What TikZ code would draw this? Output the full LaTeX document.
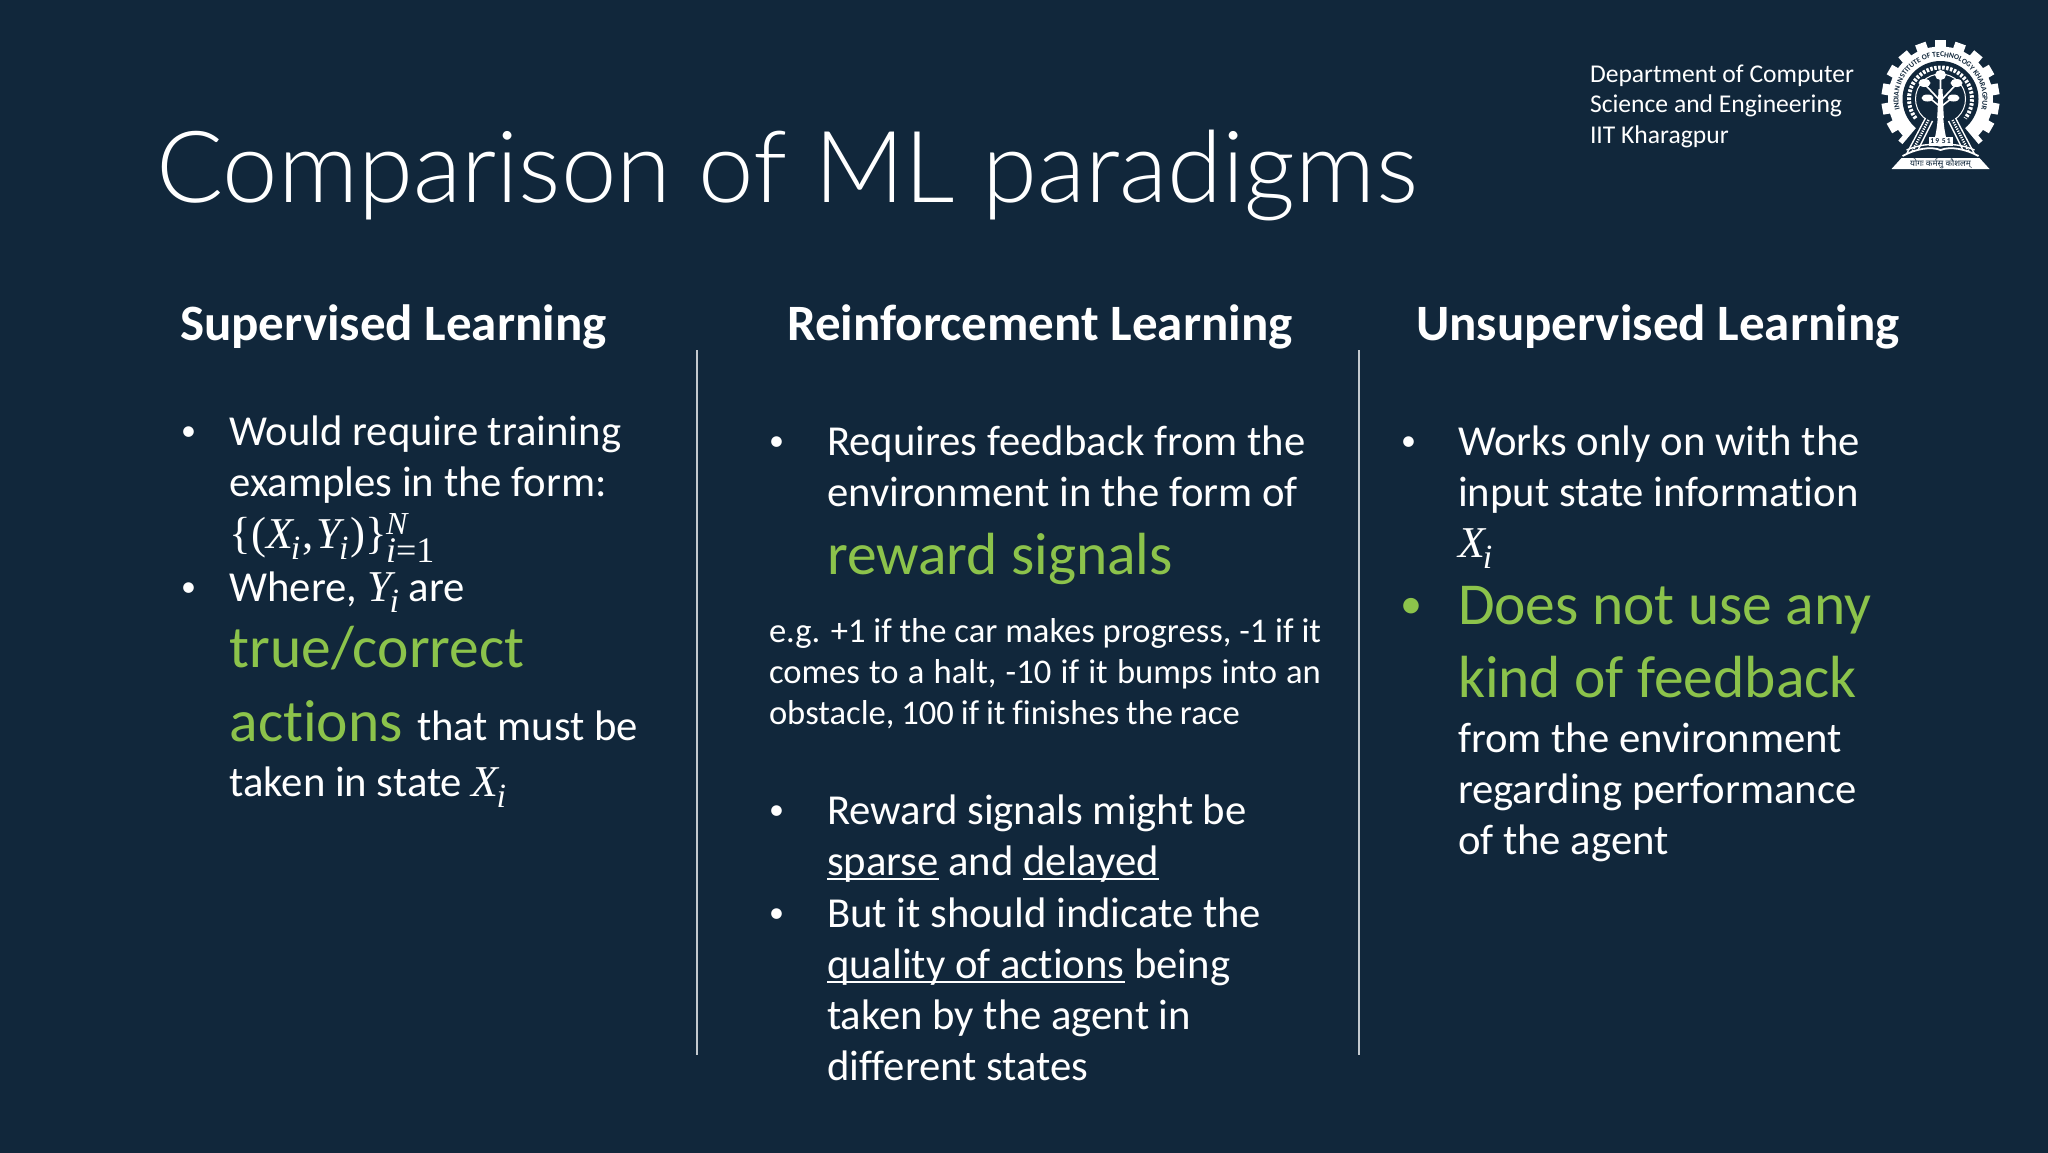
\documentclass[tikz,border=0pt]{standalone}
\usepackage{fontspec}
\setmainfont[Ligatures=NoCommon]{Carlito}
\newfontfamily\titlefont{Lato Light}
\newfontfamily\mserif{Liberation Serif}
\newfontfamily\deva[Script=Devanagari]{Noto Sans}
\usetikzlibrary{decorations.text}
\definecolor{bg}{HTML}{11273B}
\definecolor{grn}{HTML}{8CC34B}
\tikzset{x=1pt,y=-1pt,
 line/.style={anchor=base west,inner sep=0pt,outer sep=0pt,text=white,font=\fontsize{42.7}{42.7}\selectfont},
 big/.style={line,text=grn,font=\fontsize{59.5}{59.5}\selectfont},
 small/.style={line,font=\fontsize{34.6}{34.6}\selectfont},
 head/.style={line,font=\fontsize{51}{51}\selectfont\bfseries},
 dept/.style={line,font=\fontsize{25.6}{25.6}\selectfont},
 rule/.style={draw=white!75!bg,line width=1.3pt}}
\newcommand{\mi}[2]{{\mserif\itshape\fontsize{44}{44}\selectfont #1\kern-2pt\raisebox{-11pt}{\fontsize{34}{34}\selectfont #2}}}
\newcommand{\ul}[1]{\setbox0\hbox{#1}\rlap{\rule[-4.5pt]{\wd0}{1.7pt}}\box0 }
\newcommand{\bl}{{\fontsize{30}{30}\selectfont\raisebox{4.5pt}{•}}}
\newcommand{\blg}{{\fontsize{44}{44}\selectfont\raisebox{5.4pt}{•}}}
\begin{document}
\begin{tikzpicture}
\useasboundingbox (0,0) rectangle (2048,1152);
\path[fill=bg] (-6,-6) rectangle (2054,1158);
\node[line,font=\titlefont\fontsize{99.6}{99.6}\selectfont] (title) at (156,202) {Comparison of ML paradigms};
\node[dept] (d1) at (1590,82) {Department of Computer};
\node[dept] (d2) at (1590,112) {Science and Engineering};
\node[dept] (d3) at (1590,143) {IIT Kharagpur};
\node[head] (h1) at (180,340.5) {Supervised Learning};
\node[head] (h2) at (787,340.5) {Reinforcement Learning};
\node[head] (h3) at (1416,340.5) {Unsupervised Learning};
\coordinate (r1a) at (697,350); \coordinate (r1b) at (697,1055);
\coordinate (r2a) at (1359,350); \coordinate (r2b) at (1359,1055);
\draw[rule] (r1a) -- (r1b);
\draw[rule] (r2a) -- (r2b);
% column 1
\node[line] (b1) at (181,445.3) {\bl};
\node[line] (a1) at (229.5,445.3) {Would require training};
\node[line] (a2) at (229.5,496.3) {examples in the form:};
\node[line] (a3) at (229.5,548) {{\mserif\fontsize{45}{45}\selectfont\{(}\mi{X}{i}\kern2pt{\mserif\fontsize{45}{45}\selectfont,\kern3pt}\mi{Y}{i}\kern2pt{\mserif\fontsize{45}{45}\selectfont)\}}};
\node[line] (a3b) at (386,534) {\mserif\itshape\fontsize{32}{32}\selectfont N};
\node[line] (a3c) at (386,562) {{\mserif\itshape\fontsize{36}{36}\selectfont i}{\mserif\fontsize{36}{36}\selectfont =1}};
\node[line] (b2) at (181,601.3) {\bl};
\node[line] (a4) at (229.5,601.3) {Where, \mi{Y}{i} are};
\node[big] (a5) at (229.5,667.5) {true/correct};
\node[big] (a6) at (229.5,741) {actions};
\node[line] (a6b) at (417,740.3) {that must be};
\node[line] (a7) at (229.5,796.3) {taken in state \mi{X}{i}};
% column 2
\node[line] (b3) at (769,455.3) {\bl};
\node[line] (c1) at (827,455.3) {Requires feedback from the};
\node[line] (c2) at (827,506.3) {environment in the form of};
\node[big] (c3) at (827,574) {reward signals};
\node[small] (c4) at (769,642.5) {e.g. +1 if the car makes progress, -1 if it};
\node[small] (c5) at (769,683.5) {\spaceskip=9.2pt comes to a halt, -10 if it bumps into an};
\node[small] (c6) at (769,724.5) {\spaceskip=6.8pt obstacle, 100 if it finishes the race};
\node[line] (b4) at (769,824.3) {\bl};
\node[line] (c7) at (827,824.3) {Reward signals might be};
\node[line] (c8) at (827,875.3) {\ul{sparse} and \ul{delayed}};
\node[line] (b5) at (769,927.3) {\bl};
\node[line] (c9) at (827,927.3) {But it should indicate the};
\node[line] (c10) at (827,978.3) {\ul{quality of actions} being};
\node[line] (c11) at (827,1029.3) {taken by the agent in};
\node[line] (c12) at (827,1080.3) {different states};
% column 3
\node[line] (b6) at (1401,455.3) {\bl};
\node[line] (e1) at (1458,455.3) {Works only on with the};
\node[line] (e2) at (1458,506.3) {input state information};
\node[line] (e3) at (1458,557) {\mi{X}{i}};
\node[big,text=grn] (b7) at (1400,624) {\blg};
\node[big] (e4) at (1458,624) {Does not use any};
\node[big] (e5) at (1458,697) {kind of feedback};
\node[line] (e6) at (1458,752.3) {from the environment};
\node[line] (e7) at (1458,803.3) {regarding performance};
\node[line] (e8) at (1458,854.3) {of the agent};
% logo
\begin{scope}[shift={(1940.5,99)},x=1pt,y=1pt]
 \fill[white] (0,0) circle (52.5);
 \foreach \a in {10,30,...,350}
   \fill[white,rotate=\a] (48,-5.5) rectangle (59,5.5);
 \fill[bg] (0,0) -- (-130:80) -- (-110:90) -- (-70:90) -- (-50:80) -- cycle;
 \fill[bg] (0,0) circle (38);
 % outer band lettering
 \path[decorate,decoration={text along path,text align=center,reverse path=false,
   text={|\fontsize{7.5}{7.5}\selectfont\bfseries\color{bg}|INDIAN INSTITUTE OF TECHNOLOGY KHARAGPUR}}]
   (-143:42) arc[start angle=217,end angle=-37,radius=42];
 % inner band marks
 \draw[white,line width=4pt,dash pattern=on 2.5pt off 1.5pt] (-142:31.5) arc[start angle=218,end angle=-38,radius=31.5];
 % circle round the tree
 \draw[white,line width=1pt] (0,0) circle (25);
 % tree
 \fill[white] (-7,-44) .. controls (-3,-30) and (-3,-10) .. (-2,10) -- (2,10) .. controls (3,-10) and (3,-30) .. (7,-44) -- cycle;
 \draw[white,line width=1.6pt] (0,-5) -- (0,22) (0,-2) -- (-16,15) (0,-2) -- (16,15) (0,-8) -- (-12,2) (0,-8) -- (13,2);
 \fill[white] (0,24) ellipse (5.5 and 5);
 \fill[white] (-16,16) ellipse (6 and 4);
 \fill[white] (16,16) ellipse (6 and 4);
 \fill[white] (-13,1) ellipse (6 and 3.5);
 \fill[white] (13,1) ellipse (6 and 3.5);
 % temple slopes
 \fill[bg] (-15,-19) -- (15,-19) -- (36,-58) -- (-36,-58) -- cycle;
 \fill[white] (-7,-44) .. controls (-3,-30) and (-3,-20) .. (-2.5,-15) -- (2.5,-15) .. controls (3,-20) and (3,-30) .. (7,-44) -- cycle;
 \draw[white,line width=1.4pt] (-15,-19) -- (-34,-55) (15,-19) -- (34,-55);
 \draw[white,line width=1.4pt] (-8,-22) -- (-22,-50) (8,-22) -- (22,-50);
 \draw[white,line width=2.5pt,dash pattern=on 1.2pt off 1.2pt] (-12,-21) -- (-28,-52) (12,-21) -- (28,-52);
 % book
 \fill[white] (-12,-38) rectangle (12,-47);
 \node[inner sep=0pt,text=bg,font=\fontsize{7.5}{7.5}\selectfont\bfseries] (yr) at (0,-42.5) {1\,9\,\,5\,1};
 \draw[white,line width=1.8pt] (-38,-57) .. controls (-25,-50) and (-10,-47) .. (0,-51) .. controls (10,-47) and (25,-50) .. (38,-57);
 \draw[white,line width=1.4pt] (-34,-51) .. controls (-22,-46) and (-10,-44) .. (0,-47) .. controls (10,-44) and (22,-46) .. (34,-51);
 % banner
 \fill[white] (-39,-59) -- (39,-59) -- (49,-70) -- (-49,-70) -- cycle;
 \node[inner sep=0pt,text=bg,font=\deva\fontsize{8.5}{8.5}\selectfont] (motto) at (0,-64.5) {योगः कर्मसु कौशलम्};
\end{scope}
\end{tikzpicture}
\end{document}
